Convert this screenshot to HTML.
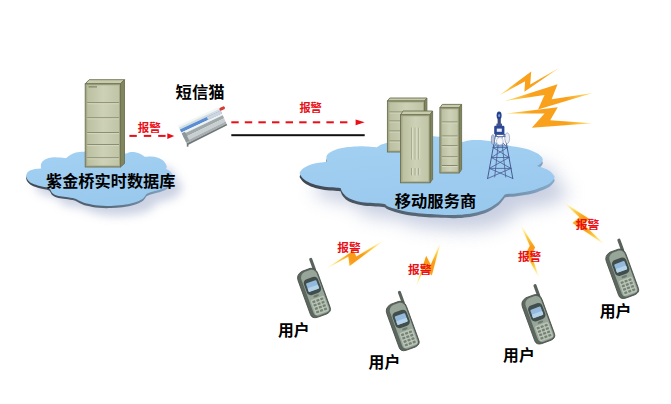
<!DOCTYPE html>
<html><head><meta charset="utf-8"><title>diagram</title>
<style>html,body{margin:0;padding:0;background:#fff;font-family:"Liberation Sans",sans-serif;}svg{display:block}</style>
</head><body>
<svg width="671" height="404" viewBox="0 0 671 404" role="img" aria-label="SMS alarm topology diagram">
<defs>
<filter id="blur8" x="-30%" y="-30%" width="160%" height="160%"><feGaussianBlur stdDeviation="9"/></filter>
<filter id="blur5" x="-30%" y="-30%" width="160%" height="160%"><feGaussianBlur stdDeviation="5"/></filter>
<filter id="blur1" x="-30%" y="-30%" width="160%" height="160%"><feGaussianBlur stdDeviation="0.5"/></filter>
<filter id="blur03" x="-30%" y="-30%" width="160%" height="160%"><feGaussianBlur stdDeviation="0.3"/></filter>
<filter id="blur1b" x="-30%" y="-30%" width="160%" height="160%"><feGaussianBlur stdDeviation="1.2"/></filter>
<filter id="blur04" x="-30%" y="-30%" width="160%" height="160%"><feGaussianBlur stdDeviation="0.4"/></filter>
<filter id="blur06" x="-30%" y="-30%" width="160%" height="160%"><feGaussianBlur stdDeviation="0.6"/></filter>
<linearGradient id="cl1" x1="0" y1="0" x2="0.3" y2="1"><stop offset="0" stop-color="#a3d1f3"/><stop offset="1" stop-color="#9ac9ee"/></linearGradient>
<linearGradient id="edge" x1="0" y1="0" x2="1" y2="0"><stop offset="0" stop-color="#3e4650"/><stop offset="0.6" stop-color="#5d6f80"/><stop offset="1" stop-color="#86aacb"/></linearGradient>
<linearGradient id="srvF" x1="0" y1="0" x2="1" y2="0"><stop offset="0" stop-color="#bcc0a1"/><stop offset="0.5" stop-color="#cdd1b6"/><stop offset="1" stop-color="#c1c5a7"/></linearGradient>
<linearGradient id="boltH" x1="0" y1="0" x2="1" y2="0"><stop offset="0" stop-color="#fde36a"/><stop offset="0.3" stop-color="#f9a11b"/><stop offset="0.7" stop-color="#f9a11b"/><stop offset="1" stop-color="#fde36a"/></linearGradient>
<linearGradient id="modF" x1="0" y1="0" x2="0" y2="1"><stop offset="0" stop-color="#dfe5e8"/><stop offset="0.5" stop-color="#b4bcc0"/><stop offset="1" stop-color="#8a9296"/></linearGradient>
</defs>
<rect width="671" height="404" fill="#fff"/>

<path d="M26.2 176.6C26.0 175.4 26.4 174.2 27.0 173.2C27.6 172.2 28.7 171.3 30.0 170.6C31.3 169.9 33.0 169.4 34.9 169.0C36.8 168.6 41.2 168.4 41.2 168.4C41.2 168.4 40.6 165.9 40.9 164.7C41.2 163.5 41.9 162.0 43.0 161.0C44.1 160.0 45.5 159.2 47.3 158.6C49.0 158.0 51.2 157.5 53.5 157.3C55.8 157.1 58.8 157.4 60.9 157.6C63.0 157.8 65.9 158.3 65.9 158.3C65.9 158.3 68.2 156.4 69.6 155.5C71.0 154.6 72.4 153.6 74.5 153.0C76.6 152.4 77.8 152.1 82.0 151.8C86.2 151.5 94.5 151.4 100.0 151.3C105.5 151.2 110.8 151.1 115.0 151.5C119.2 151.9 122.4 153.4 124.9 153.5C127.4 153.6 128.0 152.4 129.9 152.2C131.8 152.0 134.2 152.1 136.1 152.4C137.9 152.8 139.6 153.6 141.0 154.3C142.4 155.0 144.7 156.8 144.7 156.8C144.7 156.8 148.8 156.3 150.9 156.4C153.0 156.5 155.2 156.8 157.1 157.4C159.0 158.0 160.8 158.9 162.1 159.8C163.4 160.7 164.4 161.8 165.2 162.9C166.0 164.1 166.7 165.7 166.8 166.7C166.9 167.7 165.8 169.1 165.8 169.1C165.8 169.1 167.9 169.7 168.9 170.4C169.9 171.1 171.3 172.2 172.0 173.5C172.7 174.8 173.2 176.4 173.0 178.0C172.8 179.6 172.1 181.5 171.0 183.0C169.9 184.5 168.2 185.9 166.5 187.0C164.8 188.1 163.9 188.5 160.8 189.5C157.7 190.5 150.6 192.1 148.0 193.2C145.4 194.3 146.0 195.2 145.0 196.2C144.0 197.2 143.8 198.1 142.0 199.2C140.2 200.3 137.7 201.6 134.5 202.6C131.3 203.6 126.6 204.5 122.6 205.1C118.6 205.7 114.7 205.8 110.7 205.9C106.7 206.0 102.7 206.0 98.7 205.6C94.7 205.2 90.0 204.4 86.8 203.6C83.6 202.8 81.5 201.7 79.4 200.8C77.4 199.9 76.8 199.1 74.5 198.4C72.2 197.8 68.5 197.3 65.8 196.9C63.1 196.5 60.6 196.5 58.4 195.9C56.2 195.3 54.1 194.4 52.8 193.4C51.5 192.4 50.4 189.7 50.4 189.7C50.4 189.7 49.7 188.4 47.9 187.8C46.1 187.2 42.4 186.7 39.8 186.0C37.2 185.3 34.3 184.4 32.4 183.5C30.4 182.6 29.1 181.6 28.1 180.4C27.1 179.2 26.4 177.8 26.2 176.6Z" transform="translate(9,10)" fill="#aab5d0" opacity="0.6" filter="url(#blur5)"/>
<path d="M299.8 172.8C300.1 171.8 301.1 170.2 302.3 169.1C303.6 168.0 305.4 166.9 307.3 166.0C309.2 165.1 311.2 164.4 313.5 163.8C315.8 163.2 318.6 162.9 320.9 162.6C323.2 162.3 327.1 161.8 327.1 161.8C327.1 161.8 326.3 158.7 326.4 157.4C326.5 156.2 326.8 155.3 327.7 154.3C328.6 153.3 330.2 152.1 332.0 151.2C333.8 150.3 336.0 149.3 338.2 148.7C340.4 148.1 343.1 147.7 345.0 147.4C346.9 147.1 347.4 147.3 349.9 147.1C352.4 146.9 356.5 146.4 359.8 146.3C363.1 146.2 366.8 146.5 369.7 146.7C372.6 146.9 377.1 147.3 377.1 147.3C377.1 147.3 379.2 145.5 380.8 144.8C382.4 144.1 384.0 143.7 386.4 143.0C388.8 142.3 391.1 141.3 395.0 140.5C398.9 139.7 405.0 138.7 410.0 138.0C415.0 137.3 420.7 136.9 425.0 136.6C429.3 136.3 432.2 136.2 436.0 136.4C439.8 136.6 444.5 136.9 448.0 137.5C451.5 138.1 454.6 139.2 457.0 140.0C459.4 140.8 462.1 142.3 462.1 142.3C462.1 142.3 465.0 141.2 467.1 140.8C469.2 140.4 471.5 140.2 474.5 140.1C477.5 140.0 481.2 140.1 485.0 140.5C488.8 140.9 492.9 141.6 497.0 142.5C501.1 143.4 505.9 145.0 509.3 145.8C512.7 146.6 514.7 146.6 517.3 147.1C519.9 147.6 522.2 147.9 524.7 148.6C527.2 149.2 529.9 150.1 532.2 151.0C534.5 151.9 536.8 153.0 538.4 154.1C540.0 155.2 541.4 156.8 542.1 157.8C542.8 158.8 542.9 159.4 542.7 160.3C542.5 161.2 541.8 162.5 540.8 163.4C539.8 164.3 537.0 166.0 537.0 166.0C537.0 166.0 541.3 167.2 543.4 168.0C545.5 168.8 547.9 169.8 549.6 171.1C551.4 172.3 553.1 174.4 553.9 175.5C554.7 176.6 554.6 176.8 554.5 177.5C554.4 178.2 554.1 178.8 553.3 179.8C552.5 180.8 551.2 182.4 549.6 183.5C548.0 184.6 545.9 185.6 543.4 186.6C540.9 187.6 537.8 188.8 534.7 189.7C531.6 190.6 528.1 191.3 524.8 191.9C521.5 192.5 518.0 193.1 515.0 193.4C512.0 193.7 508.8 193.7 507.0 193.9C505.2 194.1 504.5 194.8 504.5 194.8C504.5 194.8 503.4 196.3 502.6 197.3C501.8 198.3 500.8 199.8 499.5 201.0C498.2 202.2 496.7 203.3 494.6 204.7C492.6 206.0 490.1 207.8 487.2 209.1C484.3 210.3 480.6 211.4 477.3 212.2C474.0 213.0 471.1 213.5 467.4 214.0C463.7 214.5 460.1 214.9 455.0 215.0C449.9 215.1 442.2 214.6 437.1 214.4C432.1 214.2 428.8 214.0 424.7 213.7C420.6 213.4 416.0 213.0 412.3 212.5C408.6 212.0 405.3 211.3 402.4 210.7C399.5 210.1 397.6 209.6 395.0 208.8C392.4 208.0 388.8 206.7 387.0 205.9C385.2 205.1 386.4 204.6 384.5 204.1C382.6 203.6 379.1 203.5 375.8 203.2C372.5 202.9 368.2 203.0 364.7 202.5C361.2 202.0 357.7 201.3 354.8 200.4C351.9 199.5 349.5 198.7 347.4 197.3C345.3 196.0 343.5 193.9 342.4 192.3C341.3 190.8 340.6 188.0 340.6 188.0C340.6 188.0 339.2 187.8 337.0 187.7C334.8 187.5 330.4 187.5 327.1 187.1C323.8 186.7 320.1 185.9 317.2 185.2C314.3 184.5 312.0 183.7 309.7 182.7C307.4 181.7 305.1 180.2 303.6 179.0C302.1 177.8 301.1 176.3 300.5 175.3C299.9 174.3 299.5 173.8 299.8 172.8Z" transform="translate(14,15)" fill="#aab5d0" opacity="0.65" filter="url(#blur8)"/>
<clipPath id="cp1"><rect x="0" y="174" width="671" height="60"/></clipPath><clipPath id="cp2"><rect x="0" y="156" width="671" height="80"/></clipPath>
<g clip-path="url(#cp1)"><path d="M26.2 176.6C26.0 175.4 26.4 174.2 27.0 173.2C27.6 172.2 28.7 171.3 30.0 170.6C31.3 169.9 33.0 169.4 34.9 169.0C36.8 168.6 41.2 168.4 41.2 168.4C41.2 168.4 40.6 165.9 40.9 164.7C41.2 163.5 41.9 162.0 43.0 161.0C44.1 160.0 45.5 159.2 47.3 158.6C49.0 158.0 51.2 157.5 53.5 157.3C55.8 157.1 58.8 157.4 60.9 157.6C63.0 157.8 65.9 158.3 65.9 158.3C65.9 158.3 68.2 156.4 69.6 155.5C71.0 154.6 72.4 153.6 74.5 153.0C76.6 152.4 77.8 152.1 82.0 151.8C86.2 151.5 94.5 151.4 100.0 151.3C105.5 151.2 110.8 151.1 115.0 151.5C119.2 151.9 122.4 153.4 124.9 153.5C127.4 153.6 128.0 152.4 129.9 152.2C131.8 152.0 134.2 152.1 136.1 152.4C137.9 152.8 139.6 153.6 141.0 154.3C142.4 155.0 144.7 156.8 144.7 156.8C144.7 156.8 148.8 156.3 150.9 156.4C153.0 156.5 155.2 156.8 157.1 157.4C159.0 158.0 160.8 158.9 162.1 159.8C163.4 160.7 164.4 161.8 165.2 162.9C166.0 164.1 166.7 165.7 166.8 166.7C166.9 167.7 165.8 169.1 165.8 169.1C165.8 169.1 167.9 169.7 168.9 170.4C169.9 171.1 171.3 172.2 172.0 173.5C172.7 174.8 173.2 176.4 173.0 178.0C172.8 179.6 172.1 181.5 171.0 183.0C169.9 184.5 168.2 185.9 166.5 187.0C164.8 188.1 163.9 188.5 160.8 189.5C157.7 190.5 150.6 192.1 148.0 193.2C145.4 194.3 146.0 195.2 145.0 196.2C144.0 197.2 143.8 198.1 142.0 199.2C140.2 200.3 137.7 201.6 134.5 202.6C131.3 203.6 126.6 204.5 122.6 205.1C118.6 205.7 114.7 205.8 110.7 205.9C106.7 206.0 102.7 206.0 98.7 205.6C94.7 205.2 90.0 204.4 86.8 203.6C83.6 202.8 81.5 201.7 79.4 200.8C77.4 199.9 76.8 199.1 74.5 198.4C72.2 197.8 68.5 197.3 65.8 196.9C63.1 196.5 60.6 196.5 58.4 195.9C56.2 195.3 54.1 194.4 52.8 193.4C51.5 192.4 50.4 189.7 50.4 189.7C50.4 189.7 49.7 188.4 47.9 187.8C46.1 187.2 42.4 186.7 39.8 186.0C37.2 185.3 34.3 184.4 32.4 183.5C30.4 182.6 29.1 181.6 28.1 180.4C27.1 179.2 26.4 177.8 26.2 176.6Z" transform="translate(0,2.2)" fill="url(#edge)"/></g>
<path d="M26.2 176.6C26.0 175.4 26.4 174.2 27.0 173.2C27.6 172.2 28.7 171.3 30.0 170.6C31.3 169.9 33.0 169.4 34.9 169.0C36.8 168.6 41.2 168.4 41.2 168.4C41.2 168.4 40.6 165.9 40.9 164.7C41.2 163.5 41.9 162.0 43.0 161.0C44.1 160.0 45.5 159.2 47.3 158.6C49.0 158.0 51.2 157.5 53.5 157.3C55.8 157.1 58.8 157.4 60.9 157.6C63.0 157.8 65.9 158.3 65.9 158.3C65.9 158.3 68.2 156.4 69.6 155.5C71.0 154.6 72.4 153.6 74.5 153.0C76.6 152.4 77.8 152.1 82.0 151.8C86.2 151.5 94.5 151.4 100.0 151.3C105.5 151.2 110.8 151.1 115.0 151.5C119.2 151.9 122.4 153.4 124.9 153.5C127.4 153.6 128.0 152.4 129.9 152.2C131.8 152.0 134.2 152.1 136.1 152.4C137.9 152.8 139.6 153.6 141.0 154.3C142.4 155.0 144.7 156.8 144.7 156.8C144.7 156.8 148.8 156.3 150.9 156.4C153.0 156.5 155.2 156.8 157.1 157.4C159.0 158.0 160.8 158.9 162.1 159.8C163.4 160.7 164.4 161.8 165.2 162.9C166.0 164.1 166.7 165.7 166.8 166.7C166.9 167.7 165.8 169.1 165.8 169.1C165.8 169.1 167.9 169.7 168.9 170.4C169.9 171.1 171.3 172.2 172.0 173.5C172.7 174.8 173.2 176.4 173.0 178.0C172.8 179.6 172.1 181.5 171.0 183.0C169.9 184.5 168.2 185.9 166.5 187.0C164.8 188.1 163.9 188.5 160.8 189.5C157.7 190.5 150.6 192.1 148.0 193.2C145.4 194.3 146.0 195.2 145.0 196.2C144.0 197.2 143.8 198.1 142.0 199.2C140.2 200.3 137.7 201.6 134.5 202.6C131.3 203.6 126.6 204.5 122.6 205.1C118.6 205.7 114.7 205.8 110.7 205.9C106.7 206.0 102.7 206.0 98.7 205.6C94.7 205.2 90.0 204.4 86.8 203.6C83.6 202.8 81.5 201.7 79.4 200.8C77.4 199.9 76.8 199.1 74.5 198.4C72.2 197.8 68.5 197.3 65.8 196.9C63.1 196.5 60.6 196.5 58.4 195.9C56.2 195.3 54.1 194.4 52.8 193.4C51.5 192.4 50.4 189.7 50.4 189.7C50.4 189.7 49.7 188.4 47.9 187.8C46.1 187.2 42.4 186.7 39.8 186.0C37.2 185.3 34.3 184.4 32.4 183.5C30.4 182.6 29.1 181.6 28.1 180.4C27.1 179.2 26.4 177.8 26.2 176.6Z" fill="url(#cl1)"/>
<g clip-path="url(#cp2)"><path d="M299.8 172.8C300.1 171.8 301.1 170.2 302.3 169.1C303.6 168.0 305.4 166.9 307.3 166.0C309.2 165.1 311.2 164.4 313.5 163.8C315.8 163.2 318.6 162.9 320.9 162.6C323.2 162.3 327.1 161.8 327.1 161.8C327.1 161.8 326.3 158.7 326.4 157.4C326.5 156.2 326.8 155.3 327.7 154.3C328.6 153.3 330.2 152.1 332.0 151.2C333.8 150.3 336.0 149.3 338.2 148.7C340.4 148.1 343.1 147.7 345.0 147.4C346.9 147.1 347.4 147.3 349.9 147.1C352.4 146.9 356.5 146.4 359.8 146.3C363.1 146.2 366.8 146.5 369.7 146.7C372.6 146.9 377.1 147.3 377.1 147.3C377.1 147.3 379.2 145.5 380.8 144.8C382.4 144.1 384.0 143.7 386.4 143.0C388.8 142.3 391.1 141.3 395.0 140.5C398.9 139.7 405.0 138.7 410.0 138.0C415.0 137.3 420.7 136.9 425.0 136.6C429.3 136.3 432.2 136.2 436.0 136.4C439.8 136.6 444.5 136.9 448.0 137.5C451.5 138.1 454.6 139.2 457.0 140.0C459.4 140.8 462.1 142.3 462.1 142.3C462.1 142.3 465.0 141.2 467.1 140.8C469.2 140.4 471.5 140.2 474.5 140.1C477.5 140.0 481.2 140.1 485.0 140.5C488.8 140.9 492.9 141.6 497.0 142.5C501.1 143.4 505.9 145.0 509.3 145.8C512.7 146.6 514.7 146.6 517.3 147.1C519.9 147.6 522.2 147.9 524.7 148.6C527.2 149.2 529.9 150.1 532.2 151.0C534.5 151.9 536.8 153.0 538.4 154.1C540.0 155.2 541.4 156.8 542.1 157.8C542.8 158.8 542.9 159.4 542.7 160.3C542.5 161.2 541.8 162.5 540.8 163.4C539.8 164.3 537.0 166.0 537.0 166.0C537.0 166.0 541.3 167.2 543.4 168.0C545.5 168.8 547.9 169.8 549.6 171.1C551.4 172.3 553.1 174.4 553.9 175.5C554.7 176.6 554.6 176.8 554.5 177.5C554.4 178.2 554.1 178.8 553.3 179.8C552.5 180.8 551.2 182.4 549.6 183.5C548.0 184.6 545.9 185.6 543.4 186.6C540.9 187.6 537.8 188.8 534.7 189.7C531.6 190.6 528.1 191.3 524.8 191.9C521.5 192.5 518.0 193.1 515.0 193.4C512.0 193.7 508.8 193.7 507.0 193.9C505.2 194.1 504.5 194.8 504.5 194.8C504.5 194.8 503.4 196.3 502.6 197.3C501.8 198.3 500.8 199.8 499.5 201.0C498.2 202.2 496.7 203.3 494.6 204.7C492.6 206.0 490.1 207.8 487.2 209.1C484.3 210.3 480.6 211.4 477.3 212.2C474.0 213.0 471.1 213.5 467.4 214.0C463.7 214.5 460.1 214.9 455.0 215.0C449.9 215.1 442.2 214.6 437.1 214.4C432.1 214.2 428.8 214.0 424.7 213.7C420.6 213.4 416.0 213.0 412.3 212.5C408.6 212.0 405.3 211.3 402.4 210.7C399.5 210.1 397.6 209.6 395.0 208.8C392.4 208.0 388.8 206.7 387.0 205.9C385.2 205.1 386.4 204.6 384.5 204.1C382.6 203.6 379.1 203.5 375.8 203.2C372.5 202.9 368.2 203.0 364.7 202.5C361.2 202.0 357.7 201.3 354.8 200.4C351.9 199.5 349.5 198.7 347.4 197.3C345.3 196.0 343.5 193.9 342.4 192.3C341.3 190.8 340.6 188.0 340.6 188.0C340.6 188.0 339.2 187.8 337.0 187.7C334.8 187.5 330.4 187.5 327.1 187.1C323.8 186.7 320.1 185.9 317.2 185.2C314.3 184.5 312.0 183.7 309.7 182.7C307.4 181.7 305.1 180.2 303.6 179.0C302.1 177.8 301.1 176.3 300.5 175.3C299.9 174.3 299.5 173.8 299.8 172.8Z" transform="translate(0,3.2)" fill="url(#edge)"/></g>
<path d="M299.8 172.8C300.1 171.8 301.1 170.2 302.3 169.1C303.6 168.0 305.4 166.9 307.3 166.0C309.2 165.1 311.2 164.4 313.5 163.8C315.8 163.2 318.6 162.9 320.9 162.6C323.2 162.3 327.1 161.8 327.1 161.8C327.1 161.8 326.3 158.7 326.4 157.4C326.5 156.2 326.8 155.3 327.7 154.3C328.6 153.3 330.2 152.1 332.0 151.2C333.8 150.3 336.0 149.3 338.2 148.7C340.4 148.1 343.1 147.7 345.0 147.4C346.9 147.1 347.4 147.3 349.9 147.1C352.4 146.9 356.5 146.4 359.8 146.3C363.1 146.2 366.8 146.5 369.7 146.7C372.6 146.9 377.1 147.3 377.1 147.3C377.1 147.3 379.2 145.5 380.8 144.8C382.4 144.1 384.0 143.7 386.4 143.0C388.8 142.3 391.1 141.3 395.0 140.5C398.9 139.7 405.0 138.7 410.0 138.0C415.0 137.3 420.7 136.9 425.0 136.6C429.3 136.3 432.2 136.2 436.0 136.4C439.8 136.6 444.5 136.9 448.0 137.5C451.5 138.1 454.6 139.2 457.0 140.0C459.4 140.8 462.1 142.3 462.1 142.3C462.1 142.3 465.0 141.2 467.1 140.8C469.2 140.4 471.5 140.2 474.5 140.1C477.5 140.0 481.2 140.1 485.0 140.5C488.8 140.9 492.9 141.6 497.0 142.5C501.1 143.4 505.9 145.0 509.3 145.8C512.7 146.6 514.7 146.6 517.3 147.1C519.9 147.6 522.2 147.9 524.7 148.6C527.2 149.2 529.9 150.1 532.2 151.0C534.5 151.9 536.8 153.0 538.4 154.1C540.0 155.2 541.4 156.8 542.1 157.8C542.8 158.8 542.9 159.4 542.7 160.3C542.5 161.2 541.8 162.5 540.8 163.4C539.8 164.3 537.0 166.0 537.0 166.0C537.0 166.0 541.3 167.2 543.4 168.0C545.5 168.8 547.9 169.8 549.6 171.1C551.4 172.3 553.1 174.4 553.9 175.5C554.7 176.6 554.6 176.8 554.5 177.5C554.4 178.2 554.1 178.8 553.3 179.8C552.5 180.8 551.2 182.4 549.6 183.5C548.0 184.6 545.9 185.6 543.4 186.6C540.9 187.6 537.8 188.8 534.7 189.7C531.6 190.6 528.1 191.3 524.8 191.9C521.5 192.5 518.0 193.1 515.0 193.4C512.0 193.7 508.8 193.7 507.0 193.9C505.2 194.1 504.5 194.8 504.5 194.8C504.5 194.8 503.4 196.3 502.6 197.3C501.8 198.3 500.8 199.8 499.5 201.0C498.2 202.2 496.7 203.3 494.6 204.7C492.6 206.0 490.1 207.8 487.2 209.1C484.3 210.3 480.6 211.4 477.3 212.2C474.0 213.0 471.1 213.5 467.4 214.0C463.7 214.5 460.1 214.9 455.0 215.0C449.9 215.1 442.2 214.6 437.1 214.4C432.1 214.2 428.8 214.0 424.7 213.7C420.6 213.4 416.0 213.0 412.3 212.5C408.6 212.0 405.3 211.3 402.4 210.7C399.5 210.1 397.6 209.6 395.0 208.8C392.4 208.0 388.8 206.7 387.0 205.9C385.2 205.1 386.4 204.6 384.5 204.1C382.6 203.6 379.1 203.5 375.8 203.2C372.5 202.9 368.2 203.0 364.7 202.5C361.2 202.0 357.7 201.3 354.8 200.4C351.9 199.5 349.5 198.7 347.4 197.3C345.3 196.0 343.5 193.9 342.4 192.3C341.3 190.8 340.6 188.0 340.6 188.0C340.6 188.0 339.2 187.8 337.0 187.7C334.8 187.5 330.4 187.5 327.1 187.1C323.8 186.7 320.1 185.9 317.2 185.2C314.3 184.5 312.0 183.7 309.7 182.7C307.4 181.7 305.1 180.2 303.6 179.0C302.1 177.8 301.1 176.3 300.5 175.3C299.9 174.3 299.5 173.8 299.8 172.8Z" fill="url(#cl1)"/>
<polygon points="85.2,83.8 89.2,79.7 124.5,79.7 120.5,83.8" fill="#c8ccad" stroke="#6c7051" stroke-width="0.9" stroke-linejoin="round"/>
<polygon points="120.5,83.8 124.5,79.7 124.5,163.5 120.5,167.0" fill="#82865f" stroke="#6c7051" stroke-width="0.9" stroke-linejoin="round"/>
<rect x="85.2" y="83.8" width="35.3" height="83.2" fill="#a6aa88" stroke="#6c7051" stroke-width="0.9"/>
<rect x="87.2" y="85.3" width="31.8" height="80.2" fill="url(#srvF)"/>
<line x1="87.2" y1="102.7" x2="119.0" y2="102.7" stroke="#85886a" stroke-width="1"/>
<line x1="87.2" y1="103.7" x2="119.0" y2="103.7" stroke="#dadcc6" stroke-width="0.8"/>
<line x1="87.2" y1="117.8" x2="119.0" y2="117.8" stroke="#85886a" stroke-width="1"/>
<line x1="87.2" y1="118.8" x2="119.0" y2="118.8" stroke="#dadcc6" stroke-width="0.8"/>
<line x1="87.2" y1="132.6" x2="119.0" y2="132.6" stroke="#85886a" stroke-width="1"/>
<line x1="87.2" y1="133.6" x2="119.0" y2="133.6" stroke="#dadcc6" stroke-width="0.8"/>
<line x1="87.2" y1="144.6" x2="119.0" y2="144.6" stroke="#85886a" stroke-width="1"/>
<line x1="87.2" y1="145.6" x2="119.0" y2="145.6" stroke="#dadcc6" stroke-width="0.8"/>
<line x1="87.2" y1="157.8" x2="119.0" y2="157.8" stroke="#85886a" stroke-width="1"/>
<line x1="87.2" y1="158.8" x2="119.0" y2="158.8" stroke="#dadcc6" stroke-width="0.8"/>
<line x1="88.5" y1="86.9" x2="97" y2="86.9" stroke="#6a6d50" stroke-width="0.9"/>
<polygon points="387.4,101.0 389.8,98.0 426.9,98.0 424.5,101.0" fill="#c8ccad" stroke="#6c7051" stroke-width="0.9" stroke-linejoin="round"/>
<polygon points="424.5,101.0 426.9,98.0 426.9,148.5 424.5,152.0" fill="#82865f" stroke="#6c7051" stroke-width="0.9" stroke-linejoin="round"/>
<rect x="387.4" y="101.0" width="37.1" height="51.0" fill="#a6aa88" stroke="#6c7051" stroke-width="0.9"/>
<rect x="389.4" y="102.5" width="33.6" height="48.0" fill="url(#srvF)"/>
<line x1="389.4" y1="112.0" x2="423.0" y2="112.0" stroke="#85886a" stroke-width="1"/>
<line x1="389.4" y1="113.0" x2="423.0" y2="113.0" stroke="#dadcc6" stroke-width="0.8"/>
<line x1="389.4" y1="121.0" x2="423.0" y2="121.0" stroke="#85886a" stroke-width="1"/>
<line x1="389.4" y1="122.0" x2="423.0" y2="122.0" stroke="#dadcc6" stroke-width="0.8"/>
<line x1="389.4" y1="131.0" x2="423.0" y2="131.0" stroke="#85886a" stroke-width="1"/>
<line x1="389.4" y1="132.0" x2="423.0" y2="132.0" stroke="#dadcc6" stroke-width="0.8"/>
<line x1="389.4" y1="141.0" x2="423.0" y2="141.0" stroke="#85886a" stroke-width="1"/>
<line x1="389.4" y1="142.0" x2="423.0" y2="142.0" stroke="#dadcc6" stroke-width="0.8"/>
<polygon points="439.9,107.8 442.3,104.4 461.6,104.4 459.2,107.8" fill="#c8ccad" stroke="#6c7051" stroke-width="0.9" stroke-linejoin="round"/>
<polygon points="459.2,107.8 461.6,104.4 461.6,169.5 459.2,173.0" fill="#82865f" stroke="#6c7051" stroke-width="0.9" stroke-linejoin="round"/>
<rect x="439.9" y="107.8" width="19.3" height="65.2" fill="#a6aa88" stroke="#6c7051" stroke-width="0.9"/>
<rect x="441.9" y="109.3" width="15.8" height="62.2" fill="url(#srvF)"/>
<line x1="441.9" y1="122.0" x2="457.7" y2="122.0" stroke="#85886a" stroke-width="1"/>
<line x1="441.9" y1="123.0" x2="457.7" y2="123.0" stroke="#dadcc6" stroke-width="0.8"/>
<line x1="441.9" y1="136.0" x2="457.7" y2="136.0" stroke="#85886a" stroke-width="1"/>
<line x1="441.9" y1="137.0" x2="457.7" y2="137.0" stroke="#dadcc6" stroke-width="0.8"/>
<line x1="441.9" y1="145.7" x2="457.7" y2="145.7" stroke="#85886a" stroke-width="1"/>
<line x1="441.9" y1="146.7" x2="457.7" y2="146.7" stroke="#dadcc6" stroke-width="0.8"/>
<line x1="441.9" y1="156.8" x2="457.7" y2="156.8" stroke="#85886a" stroke-width="1"/>
<line x1="441.9" y1="157.8" x2="457.7" y2="157.8" stroke="#dadcc6" stroke-width="0.8"/>
<line x1="441.9" y1="165.5" x2="457.7" y2="165.5" stroke="#85886a" stroke-width="1"/>
<line x1="441.9" y1="166.5" x2="457.7" y2="166.5" stroke="#dadcc6" stroke-width="0.8"/>
<polygon points="400.5,114.8 403.1,111.0 432.6,111.0 430.0,114.8" fill="#c8ccad" stroke="#6c7051" stroke-width="0.9" stroke-linejoin="round"/>
<polygon points="430.0,114.8 432.6,111.0 432.6,179.3 430.0,182.8" fill="#82865f" stroke="#6c7051" stroke-width="0.9" stroke-linejoin="round"/>
<rect x="400.5" y="114.8" width="29.5" height="68.0" fill="#a6aa88" stroke="#6c7051" stroke-width="0.9"/>
<rect x="402.5" y="116.3" width="26.0" height="65.0" fill="url(#srvF)"/>
<line x1="411.5" y1="127.6" x2="411.5" y2="159.5" stroke="#9a9e7e" stroke-width="0.8"/>
<line x1="412.4" y1="127.6" x2="412.4" y2="159.5" stroke="#dfe2cf" stroke-width="0.9"/>
<line x1="411.5" y1="168" x2="411.5" y2="175.3" stroke="#8e9272" stroke-width="0.8"/>
<line x1="412.4" y1="168" x2="412.4" y2="175.3" stroke="#dfe2cf" stroke-width="0.9"/>
<line x1="415.2" y1="127.6" x2="415.2" y2="159.5" stroke="#9a9e7e" stroke-width="0.8"/>
<line x1="416.1" y1="127.6" x2="416.1" y2="159.5" stroke="#dfe2cf" stroke-width="0.9"/>
<line x1="415.2" y1="168" x2="415.2" y2="175.3" stroke="#8e9272" stroke-width="0.8"/>
<line x1="416.1" y1="168" x2="416.1" y2="175.3" stroke="#dfe2cf" stroke-width="0.9"/>
<line x1="418.8" y1="127.6" x2="418.8" y2="159.5" stroke="#9a9e7e" stroke-width="0.8"/>
<line x1="419.7" y1="127.6" x2="419.7" y2="159.5" stroke="#dfe2cf" stroke-width="0.9"/>
<line x1="418.8" y1="168" x2="418.8" y2="175.3" stroke="#8e9272" stroke-width="0.8"/>
<line x1="419.7" y1="168" x2="419.7" y2="175.3" stroke="#dfe2cf" stroke-width="0.9"/>
<g filter="url(#blur03)">
<g stroke="#465a92" stroke-width="1" fill="none" stroke-linecap="round">
<path d="M495.6 134.5 L487.6 178.5 M504.8 134.5 L512.8 178.5"/>
<path d="M498.6 140.5 L494.7 177.0 M501.8 140.5 L505.7 177.0" stroke-width="0.8"/>
<path d="M495.6 134.5 L504.8 134.5 M495.6 134.5 L507.2 147.6 M504.8 134.5 L493.2 147.6" stroke-width="0.8"/>
<path d="M493.2 147.6 L507.2 147.6 M493.2 147.6 L509.0 157.5 M507.2 147.6 L491.4 157.5" stroke-width="0.8"/>
<path d="M491.4 157.5 L509.0 157.5 M491.4 157.5 L511.0 168.4 M509.0 157.5 L489.4 168.4" stroke-width="0.8"/>
<path d="M489.4 168.4 L511.0 168.4 M489.4 168.4 L512.8 178.5 M511.0 168.4 L487.6 178.5" stroke-width="0.8"/>
</g>
<ellipse cx="492.9" cy="139.6" rx="1.6" ry="5" fill="#b9c6dc" stroke="#6a7ca6" stroke-width="0.6"/>
<ellipse cx="507.2" cy="138.2" rx="2.4" ry="5.4" fill="#e9edf3" stroke="#8090b4" stroke-width="0.6"/>
<ellipse cx="499.8" cy="141.2" rx="3.4" ry="3.8" fill="#f6f8fa" stroke="#97a4bc" stroke-width="0.6"/>
<path d="M495 136.5H505.5M496 146H504.5" stroke="#51659a" stroke-width="0.8"/>
<rect x="497.6" y="118.5" width="3.2" height="8" fill="#38497a"/>
<rect x="496.4" y="123.6" width="5.6" height="2.6" fill="#42568e"/>
<rect x="494.2" y="125.8" width="10.2" height="8.6" rx="1.2" fill="#2b4696"/>
<rect x="496.8" y="128.6" width="5" height="3.2" fill="#e8eef8"/>
<ellipse cx="499.1" cy="115.4" rx="2.5" ry="3.9" fill="#27418c"/>
<ellipse cx="499.1" cy="115.6" rx="1" ry="1.5" fill="#7f9fd8"/>
</g>
<g filter="url(#blur04)">
<polygon points="499.5,95.2 531.2,71.6 530.2,84.4 559.7,67.5 524.4,91.8 525.1,81.3" fill="url(#boltH)" />
<polygon points="505.0,101.0 557.6,84.2 551.6,99.2 592.6,93.0 538.0,109.6 544.5,95.0" fill="url(#boltH)" />
<polygon points="505.8,113.5 557.8,107.3 550.2,120.2 591.9,123.2 531.8,127.8 544.5,113.6" fill="url(#boltH)" />
</g>
<rect x="231.3" y="134.2" width="133.4" height="2" fill="#111"/>
<rect x="129.4" y="134.9" width="7.4" height="2.0" fill="#ea0e16"/><rect x="143.8" y="134.9" width="7.4" height="2.0" fill="#ea0e16"/><rect x="158.2" y="134.9" width="7.4" height="2.0" fill="#ea0e16"/>
<polygon points="167.3,133.3 174.3,136.1 167.3,139.1" fill="#ea0e16" />
<rect x="231.3" y="121.3" width="7.4" height="2.0" fill="#ea0e16"/><rect x="244.8" y="121.3" width="7.4" height="2.0" fill="#ea0e16"/><rect x="258.4" y="121.3" width="7.4" height="2.0" fill="#ea0e16"/><rect x="272.0" y="121.3" width="7.4" height="2.0" fill="#ea0e16"/><rect x="285.6" y="121.3" width="7.4" height="2.0" fill="#ea0e16"/><rect x="299.2" y="121.3" width="7.4" height="2.0" fill="#ea0e16"/><rect x="312.8" y="121.3" width="7.4" height="2.0" fill="#ea0e16"/><rect x="326.4" y="121.3" width="7.4" height="2.0" fill="#ea0e16"/><rect x="340.0" y="121.3" width="7.4" height="2.0" fill="#ea0e16"/>
<polygon points="355.6,119.4 364.7,122.3 355.6,125.3" fill="#ea0e16" />
<g filter="url(#blur04)">
<polygon points="177.9,125.4 219.0,106.9 219.8,108.7 178.9,127.4" fill="#f2f5f6" />
<polygon points="178.9,127.4 219.8,108.7 220.6,110.6 179.8,129.4" fill="#d5dce2" />
<polygon points="179.8,129.4 220.6,110.6 222.0,113.5 181.4,132.5" fill="#5a8ed2" />
<polygon points="181.4,132.5 222.0,113.5 222.8,115.3 182.3,134.5" fill="#eef1f2" />
<polygon points="182.3,134.5 222.8,115.3 224.1,118.2 183.9,137.7" fill="#9fa8aa" />
<polygon points="183.9,137.7 224.1,118.2 225.6,121.5 185.6,141.2" fill="#c9cfd0" />
<polygon points="185.6,141.2 225.6,121.5 226.5,123.7 186.7,143.6" fill="#a8b0b1" />
<polygon points="186.7,143.6 226.5,123.7 227.2,125.2 187.5,145.2" fill="#6f787a" />
<polygon points="206.8,117.0 220.6,110.6 222.0,113.5 208.1,120.0" fill="#cdd5de" />
<polygon points="181.7,133.3 185.0,131.8 189.3,140.6 186.1,142.2" fill="#8d9698" />
<rect x="219.4" y="107" width="5.6" height="3" rx="1.2" fill="#d63a30" transform="rotate(-25 222.2 108.5)"/>
<rect x="186.8" y="143.5" width="1.6" height="3.2" fill="#70787c"/>
</g>
<polygon points="325.5,269.0 353.3,250.8 356.4,256.6 383.6,240.5 349.6,266.1 348.4,256.6" fill="#fde98a" filter="url(#blur1b)" opacity="0.55"/><polygon points="325.5,269.0 353.3,250.8 356.4,256.6 383.6,240.5 349.6,266.1 348.4,256.6" fill="url(#bg0)" filter="url(#blur04)"/>
<polygon points="415.8,287.0 426.2,255.8 430.7,264.7 440.3,243.2 431.8,275.4 424.0,268.4" fill="#fde98a" filter="url(#blur1b)" opacity="0.55"/><polygon points="415.8,287.0 426.2,255.8 430.7,264.7 440.3,243.2 431.8,275.4 424.0,268.4" fill="url(#bg1)" filter="url(#blur04)"/>
<polygon points="520.9,225.6 535.1,247.4 531.4,254.6 538.6,277.1 525.7,253.8 529.8,245.7" fill="#fde98a" filter="url(#blur1b)" opacity="0.55"/><polygon points="520.9,225.6 535.1,247.4 531.4,254.6 538.6,277.1 525.7,253.8 529.8,245.7" fill="url(#bg2)" filter="url(#blur04)"/>
<polygon points="564.7,203.2 589.5,219.1 583.2,224.0 604.0,244.0 572.5,222.9 579.5,217.3" fill="#fde98a" filter="url(#blur1b)" opacity="0.55"/><polygon points="564.7,203.2 589.5,219.1 583.2,224.0 604.0,244.0 572.5,222.9 579.5,217.3" fill="url(#bg3)" filter="url(#blur04)"/>
<defs><linearGradient id="bg0" gradientUnits="userSpaceOnUse" x1="325.5" y1="269.0" x2="383.6" y2="240.5"><stop offset="0" stop-color="#fbe97a" stop-opacity="0.15"/><stop offset="0.22" stop-color="#fbd24a"/><stop offset="0.42" stop-color="#f99c1a"/><stop offset="0.6" stop-color="#f99c1a"/><stop offset="0.8" stop-color="#fbd24a"/><stop offset="1" stop-color="#fbe97a" stop-opacity="0.15"/></linearGradient><linearGradient id="bg1" gradientUnits="userSpaceOnUse" x1="415.8" y1="287.0" x2="440.3" y2="243.2"><stop offset="0" stop-color="#fbe97a" stop-opacity="0.15"/><stop offset="0.22" stop-color="#fbd24a"/><stop offset="0.42" stop-color="#f99c1a"/><stop offset="0.6" stop-color="#f99c1a"/><stop offset="0.8" stop-color="#fbd24a"/><stop offset="1" stop-color="#fbe97a" stop-opacity="0.15"/></linearGradient><linearGradient id="bg2" gradientUnits="userSpaceOnUse" x1="520.9" y1="225.6" x2="538.6" y2="277.1"><stop offset="0" stop-color="#fbe97a" stop-opacity="0.15"/><stop offset="0.22" stop-color="#fbd24a"/><stop offset="0.42" stop-color="#f99c1a"/><stop offset="0.6" stop-color="#f99c1a"/><stop offset="0.8" stop-color="#fbd24a"/><stop offset="1" stop-color="#fbe97a" stop-opacity="0.15"/></linearGradient><linearGradient id="bg3" gradientUnits="userSpaceOnUse" x1="564.7" y1="203.2" x2="604.0" y2="244.0"><stop offset="0" stop-color="#fbe97a" stop-opacity="0.15"/><stop offset="0.22" stop-color="#fbd24a"/><stop offset="0.42" stop-color="#f99c1a"/><stop offset="0.6" stop-color="#f99c1a"/><stop offset="0.8" stop-color="#fbd24a"/><stop offset="1" stop-color="#fbe97a" stop-opacity="0.15"/></linearGradient></defs>
<g transform="translate(313.8,293.1) rotate(-20)">
<rect x="7.1" y="-34.2" width="3.1" height="14" rx="1.4" fill="#5a625c"/>
<path d="M-10.5 -17 Q-10.5 -23 -4 -24.5 L5 -24.5 Q10.5 -23.5 10.5 -17 L10.5 19 Q10.5 23.5 5 24 L-5 24 Q-10.5 23.5 -10.5 19Z" fill="#5c685f" stroke="#465048" stroke-width="0.8"/>
<path d="M-7 -16.5 Q-7 -22 -1.5 -23 L5 -23 Q9.5 -22 9.5 -16.5 L9.5 18.5 Q9.5 22.5 5 22.8 L-2.5 22.8 Q-7 22.5 -7 18.5Z" fill="#98a69a"/>
<rect x="-6.3" y="-15.6" width="15" height="16.8" rx="4.2" fill="#424e4b"/>
<rect x="-4.3" y="-11.6" width="11" height="9" rx="1" fill="#93b9dc"/><rect x="-4.3" y="-6.6" width="11" height="4" rx="1" fill="#b4d2ea"/>
<ellipse cx="1.3" cy="3.4" rx="3" ry="1.2" fill="#6d7a70"/>
<rect x="-5.6" y="5.6" width="14" height="16" rx="1.5" fill="#bac5b5"/>
<rect x="-4.4" y="7.0" width="3.1" height="2.3" rx="0.6" fill="#758277"/>
<rect x="-0.2" y="7.0" width="3.1" height="2.3" rx="0.6" fill="#758277"/>
<rect x="4.0" y="7.0" width="3.1" height="2.3" rx="0.6" fill="#758277"/>
<rect x="-4.4" y="10.6" width="3.1" height="2.3" rx="0.6" fill="#758277"/>
<rect x="-0.2" y="10.6" width="3.1" height="2.3" rx="0.6" fill="#758277"/>
<rect x="4.0" y="10.6" width="3.1" height="2.3" rx="0.6" fill="#758277"/>
<rect x="-4.4" y="14.2" width="3.1" height="2.3" rx="0.6" fill="#758277"/>
<rect x="-0.2" y="14.2" width="3.1" height="2.3" rx="0.6" fill="#758277"/>
<rect x="4.0" y="14.2" width="3.1" height="2.3" rx="0.6" fill="#758277"/>
<rect x="-4.4" y="17.8" width="3.1" height="2.3" rx="0.6" fill="#758277"/>
<rect x="-0.2" y="17.8" width="3.1" height="2.3" rx="0.6" fill="#758277"/>
<rect x="4.0" y="17.8" width="3.1" height="2.3" rx="0.6" fill="#758277"/>
</g>
<g transform="translate(402.5,326.1) rotate(-20)">
<rect x="7.1" y="-34.2" width="3.1" height="14" rx="1.4" fill="#5a625c"/>
<path d="M-10.5 -17 Q-10.5 -23 -4 -24.5 L5 -24.5 Q10.5 -23.5 10.5 -17 L10.5 19 Q10.5 23.5 5 24 L-5 24 Q-10.5 23.5 -10.5 19Z" fill="#5c685f" stroke="#465048" stroke-width="0.8"/>
<path d="M-7 -16.5 Q-7 -22 -1.5 -23 L5 -23 Q9.5 -22 9.5 -16.5 L9.5 18.5 Q9.5 22.5 5 22.8 L-2.5 22.8 Q-7 22.5 -7 18.5Z" fill="#98a69a"/>
<rect x="-6.3" y="-15.6" width="15" height="16.8" rx="4.2" fill="#424e4b"/>
<rect x="-4.3" y="-11.6" width="11" height="9" rx="1" fill="#93b9dc"/><rect x="-4.3" y="-6.6" width="11" height="4" rx="1" fill="#b4d2ea"/>
<ellipse cx="1.3" cy="3.4" rx="3" ry="1.2" fill="#6d7a70"/>
<rect x="-5.6" y="5.6" width="14" height="16" rx="1.5" fill="#bac5b5"/>
<rect x="-4.4" y="7.0" width="3.1" height="2.3" rx="0.6" fill="#758277"/>
<rect x="-0.2" y="7.0" width="3.1" height="2.3" rx="0.6" fill="#758277"/>
<rect x="4.0" y="7.0" width="3.1" height="2.3" rx="0.6" fill="#758277"/>
<rect x="-4.4" y="10.6" width="3.1" height="2.3" rx="0.6" fill="#758277"/>
<rect x="-0.2" y="10.6" width="3.1" height="2.3" rx="0.6" fill="#758277"/>
<rect x="4.0" y="10.6" width="3.1" height="2.3" rx="0.6" fill="#758277"/>
<rect x="-4.4" y="14.2" width="3.1" height="2.3" rx="0.6" fill="#758277"/>
<rect x="-0.2" y="14.2" width="3.1" height="2.3" rx="0.6" fill="#758277"/>
<rect x="4.0" y="14.2" width="3.1" height="2.3" rx="0.6" fill="#758277"/>
<rect x="-4.4" y="17.8" width="3.1" height="2.3" rx="0.6" fill="#758277"/>
<rect x="-0.2" y="17.8" width="3.1" height="2.3" rx="0.6" fill="#758277"/>
<rect x="4.0" y="17.8" width="3.1" height="2.3" rx="0.6" fill="#758277"/>
</g>
<g transform="translate(538.1,319.4) rotate(-20)">
<rect x="7.1" y="-34.2" width="3.1" height="14" rx="1.4" fill="#5a625c"/>
<path d="M-10.5 -17 Q-10.5 -23 -4 -24.5 L5 -24.5 Q10.5 -23.5 10.5 -17 L10.5 19 Q10.5 23.5 5 24 L-5 24 Q-10.5 23.5 -10.5 19Z" fill="#5c685f" stroke="#465048" stroke-width="0.8"/>
<path d="M-7 -16.5 Q-7 -22 -1.5 -23 L5 -23 Q9.5 -22 9.5 -16.5 L9.5 18.5 Q9.5 22.5 5 22.8 L-2.5 22.8 Q-7 22.5 -7 18.5Z" fill="#98a69a"/>
<rect x="-6.3" y="-15.6" width="15" height="16.8" rx="4.2" fill="#424e4b"/>
<rect x="-4.3" y="-11.6" width="11" height="9" rx="1" fill="#93b9dc"/><rect x="-4.3" y="-6.6" width="11" height="4" rx="1" fill="#b4d2ea"/>
<ellipse cx="1.3" cy="3.4" rx="3" ry="1.2" fill="#6d7a70"/>
<rect x="-5.6" y="5.6" width="14" height="16" rx="1.5" fill="#bac5b5"/>
<rect x="-4.4" y="7.0" width="3.1" height="2.3" rx="0.6" fill="#758277"/>
<rect x="-0.2" y="7.0" width="3.1" height="2.3" rx="0.6" fill="#758277"/>
<rect x="4.0" y="7.0" width="3.1" height="2.3" rx="0.6" fill="#758277"/>
<rect x="-4.4" y="10.6" width="3.1" height="2.3" rx="0.6" fill="#758277"/>
<rect x="-0.2" y="10.6" width="3.1" height="2.3" rx="0.6" fill="#758277"/>
<rect x="4.0" y="10.6" width="3.1" height="2.3" rx="0.6" fill="#758277"/>
<rect x="-4.4" y="14.2" width="3.1" height="2.3" rx="0.6" fill="#758277"/>
<rect x="-0.2" y="14.2" width="3.1" height="2.3" rx="0.6" fill="#758277"/>
<rect x="4.0" y="14.2" width="3.1" height="2.3" rx="0.6" fill="#758277"/>
<rect x="-4.4" y="17.8" width="3.1" height="2.3" rx="0.6" fill="#758277"/>
<rect x="-0.2" y="17.8" width="3.1" height="2.3" rx="0.6" fill="#758277"/>
<rect x="4.0" y="17.8" width="3.1" height="2.3" rx="0.6" fill="#758277"/>
</g>
<g transform="translate(622.0,273.9) rotate(-20)">
<rect x="7.1" y="-34.2" width="3.1" height="14" rx="1.4" fill="#5a625c"/>
<path d="M-10.5 -17 Q-10.5 -23 -4 -24.5 L5 -24.5 Q10.5 -23.5 10.5 -17 L10.5 19 Q10.5 23.5 5 24 L-5 24 Q-10.5 23.5 -10.5 19Z" fill="#5c685f" stroke="#465048" stroke-width="0.8"/>
<path d="M-7 -16.5 Q-7 -22 -1.5 -23 L5 -23 Q9.5 -22 9.5 -16.5 L9.5 18.5 Q9.5 22.5 5 22.8 L-2.5 22.8 Q-7 22.5 -7 18.5Z" fill="#98a69a"/>
<rect x="-6.3" y="-15.6" width="15" height="16.8" rx="4.2" fill="#424e4b"/>
<rect x="-4.3" y="-11.6" width="11" height="9" rx="1" fill="#93b9dc"/><rect x="-4.3" y="-6.6" width="11" height="4" rx="1" fill="#b4d2ea"/>
<ellipse cx="1.3" cy="3.4" rx="3" ry="1.2" fill="#6d7a70"/>
<rect x="-5.6" y="5.6" width="14" height="16" rx="1.5" fill="#bac5b5"/>
<rect x="-4.4" y="7.0" width="3.1" height="2.3" rx="0.6" fill="#758277"/>
<rect x="-0.2" y="7.0" width="3.1" height="2.3" rx="0.6" fill="#758277"/>
<rect x="4.0" y="7.0" width="3.1" height="2.3" rx="0.6" fill="#758277"/>
<rect x="-4.4" y="10.6" width="3.1" height="2.3" rx="0.6" fill="#758277"/>
<rect x="-0.2" y="10.6" width="3.1" height="2.3" rx="0.6" fill="#758277"/>
<rect x="4.0" y="10.6" width="3.1" height="2.3" rx="0.6" fill="#758277"/>
<rect x="-4.4" y="14.2" width="3.1" height="2.3" rx="0.6" fill="#758277"/>
<rect x="-0.2" y="14.2" width="3.1" height="2.3" rx="0.6" fill="#758277"/>
<rect x="4.0" y="14.2" width="3.1" height="2.3" rx="0.6" fill="#758277"/>
<rect x="-4.4" y="17.8" width="3.1" height="2.3" rx="0.6" fill="#758277"/>
<rect x="-0.2" y="17.8" width="3.1" height="2.3" rx="0.6" fill="#758277"/>
<rect x="4.0" y="17.8" width="3.1" height="2.3" rx="0.6" fill="#758277"/>
</g>
<g font-family='"Liberation Sans", "Noto Sans CJK SC", sans-serif' font-weight="bold">
<text x="175.6" y="97.8" font-size="16.3" fill="#000">短信猫</text>
<text x="46" y="187.4" font-size="16.2" fill="#000">紫金桥实时数据库</text>
<text x="394.8" y="207.3" font-size="16.3" fill="#000">移动服务商</text>
<text x="278" y="335.7" font-size="15.8" fill="#000">用户</text>
<text x="368.6" y="367.5" font-size="15.8" fill="#000">用户</text>
<text x="503.1" y="361.4" font-size="15.8" fill="#000">用户</text>
<text x="599.8" y="316.8" font-size="15.8" fill="#000">用户</text>
<text x="137.7" y="132.2" font-size="11.5" fill="#ea0e16">报警</text>
<text x="299.4" y="111.9" font-size="11.2" fill="#ea0e16">报警</text>
<text x="337.2" y="251.9" font-size="11.7" fill="#ea0e16">报警</text>
<text x="408" y="274.1" font-size="11.7" fill="#ea0e16">报警</text>
<text x="517.9" y="260.8" font-size="11.6" fill="#ea0e16">报警</text>
<text x="575.7" y="228.5" font-size="11.8" fill="#ea0e16">报警</text>
</g>
</svg></body></html>
